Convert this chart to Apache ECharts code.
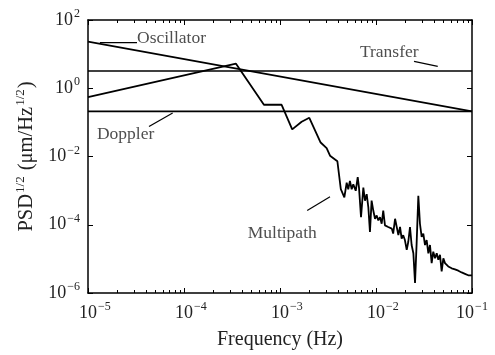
<!DOCTYPE html>
<html>
<head>
<meta charset="utf-8">
<script src="https://cdn.jsdelivr.net/npm/echarts@6/dist/echarts.min.js"></script>
<style>
  html, body { margin: 0; padding: 0; background: #fff; }
  #chart { width: 495px; height: 355px; }
</style>
</head>
<body>
<div id="chart"></div>
<script>
// Frequency axis (Hz) and PSD^1/2 axis (um/Hz^1/2) ranges and labelled ticks
const freqRange = [1e-5, 1e-1];
const psdRange = [1e-6, 1e2];
const freqTicks = [1e-5, 1e-4, 1e-3, 1e-2, 1e-1];
const psdTicks = [1e-6, 1e-4, 1e-2, 1, 1e2];

// Multipath spectrum
const multipathFreq = [1e-5, 3.48e-4, 6.8e-4, 1.04e-3, 1.34e-3, 1.68e-3, 2.02e-3, 2.65e-3, 3.06e-3, 3.32e-3,
  3.96e-3, 4.3e-3, 4.68e-3, 4.95e-3, 5.14e-3, 5.35e-3, 5.58e-3, 5.8e-3, 6.15e-3, 6.45e-3,
  6.65e-3, 6.98e-3, 7.38e-3, 7.68e-3, 8.0e-3, 8.32e-3, 8.65e-3, 9.0e-3, 9.37e-3, 9.77e-3,
  1.017e-2, 1.057e-2, 1.1e-2, 1.146e-2, 1.19e-2, 1.24e-2, 1.29e-2, 1.34e-2, 1.40e-2, 1.46e-2,
  1.51e-2, 1.58e-2, 1.64e-2, 1.71e-2, 1.78e-2, 1.85e-2, 1.92e-2, 2.0e-2, 2.09e-2, 2.17e-2,
  2.26e-2, 2.35e-2, 2.45e-2, 2.55e-2, 2.65e-2, 2.76e-2, 2.87e-2, 2.99e-2, 3.11e-2, 3.24e-2,
  3.37e-2, 3.51e-2, 3.65e-2, 3.80e-2, 3.95e-2, 4.12e-2, 4.29e-2, 4.46e-2, 4.64e-2, 4.83e-2,
  5.03e-2, 5.23e-2, 5.45e-2, 5.66e-2, 5.9e-2, 6.14e-2, 6.38e-2, 6.65e-2, 6.92e-2, 7.2e-2,
  7.5e-2, 7.8e-2, 8.1e-2, 8.45e-2, 8.8e-2, 9.14e-2, 9.5e-2, 0.1];
const multipathPsd = [0.55, 5.26, 0.328, 0.328, 0.0622, 0.104, 0.136, 0.0257, 0.0176, 0.01055,
  7.26e-3, 1.1e-3, 6.3e-4, 1.72e-3, 1.1e-3, 1.92e-3, 1.1e-3, 1.53e-3, 9.9e-4, 2.5e-3,
  1.23e-3, 1.67e-4, 1.23e-3, 5.08e-4, 7.9e-4, 3.26e-4, 6.2e-5, 5.08e-4, 2.61e-4, 1.5e-4,
  1.87e-4, 1.34e-4, 1.67e-4, 1.07e-4, 2.61e-4, 9.6e-5, 1.07e-4, 8.6e-5, 9.6e-5, 7.7e-5,
  5.5e-5, 1.5e-4, 1.34e-4, 4.95e-5, 8.6e-5, 3.95e-5, 4.95e-5, 3.56e-5, 1.83e-5, 3.18e-5,
  8.6e-5, 2.55e-5, 1.46e-5, 1.98e-6, 2.84e-5, 7.1e-4, 1.07e-4, 4.43e-5, 5.5e-5, 2.55e-5,
  3.56e-5, 1.46e-5, 2.55e-5, 7.5e-6, 1.63e-5, 1.04e-5, 1.46e-5, 9.4e-6, 1.31e-5, 4.3e-6,
  1.04e-5, 7.5e-6, 8.4e-6, 6.0e-6, 6.7e-6, 5.3e-6, 6.0e-6, 4.9e-6, 5.4e-6, 4.5e-6,
  4.8e-6, 4.0e-6, 4.3e-6, 3.65e-6, 3.85e-6, 3.3e-6, 3.47e-6, 3.3e-6];

// Oscillator, transfer and Doppler noise levels
const oscillatorFreq = [1e-5, 1e-1];
const oscillatorPsd = [23.2, 0.21];
const transferFreq = [1e-5, 1e-1];
const transferPsd = [3.21, 3.21];
const dopplerFreq = [1e-5, 1e-1];
const dopplerPsd = [0.21, 0.21];

// Curve labels and their leader lines
const noteText = ['Oscillator', 'Transfer', 'Doppler', 'Multipath'];
const noteFreq = [3.24e-5, 6.8e-3, 1.24e-5, 4.61e-4];
const notePsd = [28.3, 11.1, 0.0447, 5.5e-5];
const leaderFreq = [[1.33e-5, 3.24e-5], [2.49e-2, 4.4e-2], [4.32e-5, 7.62e-5], [1.92e-3, 3.32e-3]];
const leaderPsd = [[21.7, 21.7], [6.12, 4.4], [0.076, 0.189], [2.6e-4, 6.6e-4]];

const FONT = 'Liberation Serif';
const INK = '#222';

function pairs(xs, ys) { return xs.map((x, i) => [x, ys[i]]); }

function expText(v) {
  const e = Math.round(Math.log10(v));
  return e < 0 ? '\u2212' + Math.abs(e) : String(e);
}

// minor tick values (2..9 x 10^k) between the labelled frequency decades
const minorFreqTicks = [];
freqTicks.slice(0, -1).forEach(function (d) {
  for (let m = 2; m <= 9; m++) minorFreqTicks.push(m * d);
});

const tickRich = {
  b: { fontFamily: FONT, fontSize: 18, color: INK, lineHeight: 20 },
  s: { fontFamily: FONT, fontSize: 12, color: INK, lineHeight: 20, verticalAlign: 'top', padding: [-2, 0, 0, 1] },
  p: { fontFamily: FONT, fontSize: 12, color: 'rgba(0,0,0,0)', lineHeight: 20, padding: [0, 1, 0, 0] }
};

const axisLine = { show: true, lineStyle: { color: '#000', width: 1.5 } };
const majorTick = { show: true, inside: true, length: 5, lineStyle: { color: '#000', width: 1 } };

function xAxisBase(position) {
  return {
    type: 'log', logBase: 10, min: freqRange[0], max: freqRange[1], position: position,
    axisLine: axisLine,
    axisTick: Object.assign({ customValues: freqTicks }, majorTick),
    axisLabel: { show: false },
    splitLine: { show: false },
    minorTick: { show: false }
  };
}

const bottomAxis = xAxisBase('bottom');
bottomAxis.axisLabel = {
  show: true, margin: 10, rich: tickRich, customValues: freqTicks,
  formatter: function (v) {
    const s = expText(v);
    if (v === freqTicks[freqTicks.length - 1]) return '{b|10}{s|' + s + '}';
    return '{p|' + s + '}{b|10}{s|' + s + '}';
  }
};
bottomAxis.name = 'Frequency (Hz)';
bottomAxis.nameLocation = 'middle';
bottomAxis.nameGap = 37;
bottomAxis.nameTextStyle = { fontFamily: FONT, fontSize: 20, color: INK };

function yAxisBase(position) {
  return {
    type: 'log', logBase: 10, min: psdRange[0], max: psdRange[1], position: position,
    axisLine: axisLine,
    axisTick: Object.assign({ customValues: psdTicks }, majorTick),
    axisLabel: { show: false },
    splitLine: { show: false },
    minorTick: { show: false }
  };
}
const leftAxis = yAxisBase('left');
leftAxis.axisLabel = {
  show: true, margin: 8, rich: tickRich, customValues: psdTicks,
  formatter: function (v) { return '{b|10}{s|' + expText(v) + '}'; }
};
leftAxis.name = '{a|PSD}{s|1/2}{a| (\u03bcm/Hz}{s|1/2}{a|)}';
leftAxis.nameLocation = 'middle';
leftAxis.nameRotate = 90;
leftAxis.nameGap = 50;
leftAxis.nameTextStyle = {
  rich: {
    a: { fontFamily: FONT, fontSize: 20.5, color: INK, lineHeight: 22 },
    s: { fontFamily: FONT, fontSize: 13, color: INK, lineHeight: 22, verticalAlign: 'top', padding: [-2, 1, 0, 1] }
  }
};

function curve(name, xs, ys, width) {
  return {
    name: name, type: 'line', data: pairs(xs, ys), showSymbol: false, symbol: 'none',
    lineStyle: { color: '#000', width: width }, silent: true, z: 3
  };
}

const series = [
  curve('Transfer', transferFreq, transferPsd, 1.6),
  curve('Doppler', dopplerFreq, dopplerPsd, 1.6),
  curve('Oscillator', oscillatorFreq, oscillatorPsd, 1.6),
  curve('Multipath', multipathFreq, multipathPsd, 1.8)
];

leaderFreq.forEach(function (xs, i) {
  series.push({
    type: 'line', data: pairs(xs, leaderPsd[i]), showSymbol: false, symbol: 'none',
    lineStyle: { color: '#000', width: 1.2 }, silent: true, z: 4
  });
});

series.push({
  type: 'scatter', symbolSize: 0, silent: true, z: 5,
  data: noteText.map(function (t, i) { return { value: [noteFreq[i], notePsd[i]], name: t }; }),
  label: {
    show: true, position: 'right', distance: 0, formatter: '{b}',
    fontFamily: FONT, fontSize: 17.5, color: INK
  }
});

const chart = echarts.init(document.getElementById('chart'), null, { renderer: 'canvas' });
chart.setOption({
  animation: false,
  backgroundColor: '#fff',
  grid: { left: 88, right: 23, top: 20, bottom: 58, containLabel: false },
  xAxis: [bottomAxis, xAxisBase('top')],
  yAxis: [leftAxis, yAxisBase('right')],
  series: series
});

// short inward minor ticks on the bottom and top frame edges
const yBottom = chart.convertToPixel({ yAxisIndex: 0 }, psdRange[0]);
const yTop = chart.convertToPixel({ yAxisIndex: 0 }, psdRange[1]);
const minorShapes = [];
minorFreqTicks.forEach(function (v) {
  const x = Math.round(chart.convertToPixel({ xAxisIndex: 0 }, v)) + 0.5;
  minorShapes.push({ type: 'line', shape: { x1: x, y1: yBottom, x2: x, y2: yBottom - 3 }, style: { stroke: '#000', lineWidth: 1 }, silent: true });
  minorShapes.push({ type: 'line', shape: { x1: x, y1: yTop, x2: x, y2: yTop + 3 }, style: { stroke: '#000', lineWidth: 1 }, silent: true });
});
chart.setOption({ graphic: minorShapes });
</script>
</body>
</html>
